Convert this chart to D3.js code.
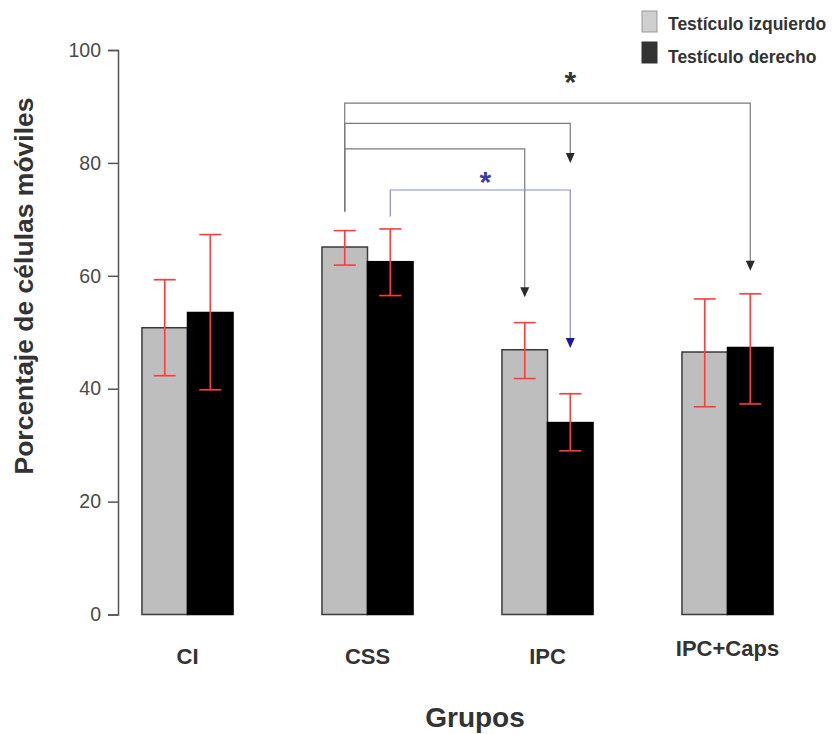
<!DOCTYPE html>
<html>
<head>
<meta charset="utf-8">
<script src="https://cdn.jsdelivr.net/npm/d3@7"></script>
<style>
  body { margin: 0; background: #fff; }
  svg text { font-family: "Liberation Sans", Arial, Helvetica, sans-serif; }
</style>
</head>
<body>
<div id="container"></div>
<script>
/* CONSTANTS AND GLOBALS */
const width = 833,
  height = 734;

/* DATA */
const groups = ["CI", "CSS", "IPC", "IPC+Caps"];
const series = ["Testículo izquierdo", "Testículo derecho"];
const izquierdo = [50.8, 65.1, 46.9, 46.5];
const derecho = [53.5, 62.5, 34.0, 47.3];
// error bars: lower / upper ends
const izqLow = [42.3, 61.9, 41.8, 36.8];
const izqHigh = [59.3, 68.0, 51.7, 55.9];
const derLow = [39.8, 56.5, 29.0, 37.3];
const derHigh = [67.3, 68.3, 39.1, 56.8];
const yTicks = [0, 20, 40, 60, 80, 100];

// comparison brackets: from (group, series) to (group, series), values in % units
const comparisons = [
  { from: [1, 0], to: [3, 1], start: 71.4, level: 90.6, end: 60.9, color: "black" },
  { from: [1, 0], to: [2, 1], start: 71.4, level: 87.0, end: 80.0, color: "black" },
  { from: [1, 0], to: [2, 0], start: 71.4, level: 82.5, end: 56.2, color: "black" },
  { from: [1, 1], to: [2, 1], start: 70.5, level: 75.2, end: 47.2, color: "blue" }
];
// significance stars, placed between two bars
const stars = [
  { a: [2, 1], b: [2, 1], y: 95.0, color: "black" },
  { a: [1, 1], b: [2, 1], y: 77.3, color: "blue" }
];

/* SCALES */
const xScale = d3.scaleBand()
  .domain(groups)
  .range([97.5, 817.5])
  .paddingInner(0.494)
  .paddingOuter(0.247);

const xSub = d3.scaleBand()
  .domain(series)
  .range([0, xScale.bandwidth()]);

const yScale = d3.scaleLinear()
  .domain([0, 100])
  .range([614.5, 50]);

const fills = ["#bebebe", "#000000"];
const lineCol = { black: "#7a7a7a", blue: "#8a8ad0" };
const headCol = { black: "#2b2b2b", blue: "#1a1a99" };

const rows = groups.map((g, i) => [
  { g, s: series[0], v: izquierdo[i], lo: izqLow[i], hi: izqHigh[i], k: 0 },
  { g, s: series[1], v: derecho[i], lo: derLow[i], hi: derHigh[i], k: 1 }
]).flat();

const cx = (gi, si) => xScale(groups[gi]) + xSub(series[si]) + xSub.bandwidth() / 2;

/* DRAW */
const svg = d3.select("#container")
  .append("svg")
  .attr("width", width)
  .attr("height", height);

// y axis
const yAxis = d3.axisLeft(yScale).tickValues(yTicks).tickSize(10).tickPadding(7);
const gy = svg.append("g")
  .attr("transform", "translate(118,0)")
  .call(yAxis);
gy.select(".domain").attr("stroke", "#555").attr("stroke-width", 1.5);
gy.selectAll(".tick line").attr("stroke", "#555").attr("stroke-width", 1.5);
gy.selectAll(".tick text")
  .attr("fill", "#4a4a4a")
  .style("font-size", "19.5px");

// bars
svg.selectAll("rect.bar")
  .data(rows)
  .join("rect")
  .attr("class", "bar")
  .attr("x", d => xScale(d.g) + xSub(d.s))
  .attr("y", d => yScale(d.v))
  .attr("width", xSub.bandwidth())
  .attr("height", d => yScale(0) - yScale(d.v))
  .attr("fill", d => fills[d.k])
  .attr("stroke", d => d.k === 0 ? "#3a3a3a" : "#000")
  .attr("stroke-width", 1.5);

// error bars
const err = svg.append("g").attr("stroke", "#ff3b3b").attr("stroke-width", 1.6);
rows.forEach(d => {
  const x = xScale(d.g) + xSub(d.s) + xSub.bandwidth() / 2;
  err.append("line").attr("x1", x).attr("x2", x).attr("y1", yScale(d.lo)).attr("y2", yScale(d.hi));
  err.append("line").attr("x1", x - 11).attr("x2", x + 11).attr("y1", yScale(d.lo)).attr("y2", yScale(d.lo));
  err.append("line").attr("x1", x - 11).attr("x2", x + 11).attr("y1", yScale(d.hi)).attr("y2", yScale(d.hi));
});

// brackets with arrows
comparisons.forEach(c => {
  const x1 = cx(c.from[0], c.from[1]);
  const x2 = cx(c.to[0], c.to[1]);
  const tip = yScale(c.end);
  svg.append("path")
    .attr("d", `M${x1},${yScale(c.start)}V${yScale(c.level)}H${x2}V${tip - 9}`)
    .attr("fill", "none")
    .attr("stroke", lineCol[c.color])
    .attr("stroke-width", 1.2);
  svg.append("path")
    .attr("d", `M${x2 - 4.5},${tip - 10}L${x2 + 4.5},${tip - 10}L${x2},${tip}Z`)
    .attr("fill", headCol[c.color]);
});

svg.selectAll("text.star")
  .data(stars)
  .join("text")
  .attr("class", "star")
  .attr("x", d => (cx(d.a[0], d.a[1]) + cx(d.b[0], d.b[1])) / 2 + (d.color === "blue" ? 5 : 0))
  .attr("y", d => yScale(d.y) + 14)
  .attr("text-anchor", "middle")
  .attr("fill", d => d.color === "blue" ? "#3a3aa8" : "#333")
  .style("font-size", "30px")
  .style("font-weight", "bold")
  .text("*");

// category labels
svg.selectAll("text.cat")
  .data(groups)
  .join("text")
  .attr("class", "cat")
  .attr("x", d => xScale(d) + xScale.bandwidth() / 2)
  .attr("y", (d, i) => i === 3 ? 656 : 664)
  .attr("text-anchor", "middle")
  .attr("fill", "#333")
  .style("font-size", "22px")
  .style("font-weight", "bold")
  .text(d => d);

// axis titles
svg.append("text")
  .attr("x", 475)
  .attr("y", 727)
  .attr("text-anchor", "middle")
  .attr("fill", "#333")
  .style("font-size", "28px")
  .style("font-weight", "bold")
  .text("Grupos");

svg.append("text")
  .attr("transform", "translate(33,286)rotate(-90)")
  .attr("text-anchor", "middle")
  .attr("fill", "#333")
  .style("font-size", "26.5px")
  .style("font-weight", "bold")
  .text("Porcentaje de células móviles");

// legend
const legend = svg.append("g").attr("transform", "translate(642,11)");
series.forEach((s, i) => {
  legend.append("rect")
    .attr("x", 0).attr("y", i * 31)
    .attr("width", 15).attr("height", 21)
    .attr("fill", i === 0 ? "#cfcfcf" : "#333")
    .attr("stroke", i === 0 ? "#999" : "#333")
    .attr("stroke-width", 1);
  legend.append("text")
    .attr("x", 26).attr("y", i * 33 + 18.5)
    .attr("fill", "#333")
    .style("font-size", "17.5px")
    .style("font-weight", "bold")
    .text(s);
});
</script>
</body>
</html>
